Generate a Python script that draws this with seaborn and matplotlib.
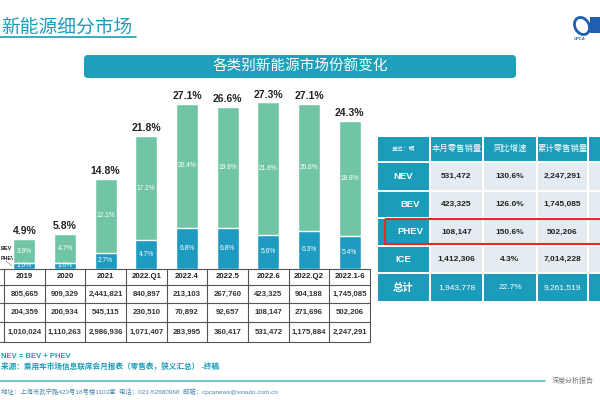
import matplotlib
matplotlib.use('Agg')
import matplotlib.pyplot as plt
import seaborn as sns
import pandas as pd
from matplotlib.patches import Rectangle, FancyBboxPatch, Ellipse

# 柱状图数据（新能源市场份额，%）
periods = ['2019', '2020', '2021', '2022.Q1', '2022.4', '2022.5', '2022.6', '2022.Q2', '2022.1-6']
nev_share = [4.9, 5.8, 14.8, 21.8, 27.1, 26.6, 27.3, 27.1, 24.3]
bev_share = [3.9, 4.7, 12.1, 17.1, 20.4, 19.8, 21.8, 20.8, 18.8]
phev_share = [1.0, 1.0, 2.7, 4.7, 6.8, 6.8, 5.6, 6.3, 5.4]

# 下方表格（零售销量，辆）
bev_sales = [805665, 909329, 2441821, 840897, 213103, 267760, 423325, 904188, 1745085]
phev_sales = [204359, 200934, 545115, 230510, 70892, 92657, 108147, 271696, 502206]
nev_sales = [1010024, 1110263, 2986936, 1071407, 283995, 360417, 531472, 1175884, 2247291]

# 右侧表格
side_header = ['单位：辆', '本月零售销量', '同比增速', '累计零售销量']
side_rows = ['NEV', 'BEV', 'PHEV', 'ICE', '总计']
month_sales = [531472, 423325, 108147, 1412306, 1943778]
yoy_growth = ['130.6%', '126.0%', '150.6%', '4.3%', '22.7%']
ytd_sales = [2247291, 1745085, 502206, 7014228, 9261519]

TEAL = '#1b9cba'
GREEN = '#70c5a5'
BAR_TEAL = '#1d9bc0'
LIGHT = '#e5ecf1'

sns.set_style('white')
plt.rcParams['font.family'] = ['Liberation Sans', 'Noto Sans CJK SC', 'DejaVu Sans']

fig = plt.figure(figsize=(6, 4), dpi=100)

# 背景层：像素坐标
bg = fig.add_axes([0, 0, 1, 1])
bg.set_xlim(0, 600)
bg.set_ylim(400, 0)
bg.axis('off')

# 1. 标题和横幅
bg.text(1, 33, '新能源细分市场', fontsize=13.5, color=TEAL, va='baseline', ha='left')
bg.plot([0, 136], [37, 37], color=TEAL, lw=1.2)
bg.add_patch(FancyBboxPatch((84, 55), 432, 23, boxstyle='round,pad=0,rounding_size=4',
                            facecolor='#1ea0bb', edgecolor='none'))
bg.text(300, 67, '各类别新能源市场份额变化', fontsize=10.5, color='white', ha='center', va='center')

# logo 近似
bg.add_patch(Ellipse((582, 26), 14, 18, angle=-30, facecolor='none', edgecolor='#1f5fb0', lw=2))
bg.add_patch(Rectangle((590, 17), 10, 16, facecolor='#1f5fb0', edgecolor='none'))
bg.text(580, 40, 'CPCA', fontsize=3, color='#1f5fb0', ha='center', style='italic', fontweight='bold')

# 2. 堆叠柱状图
left, right, base, top = 4, 370, 269, 90
px_per_pct = 6.1
ax = fig.add_axes([left / 600, (400 - base) / 400, (right - left) / 600, (base - top) / 400])
df = pd.DataFrame({'period': periods, 'nev': nev_share, 'bev': bev_share, 'phev': phev_share})
sns.barplot(data=df, x='period', y='nev', color=GREEN, width=0.54, saturation=1, ax=ax)
sns.barplot(data=df, x='period', y='phev', color=BAR_TEAL, width=0.54, saturation=1, ax=ax)
ax.set_xlim(-0.5, len(periods) - 0.5)
ax.set_ylim(0, (base - top) / px_per_pct)
ax.patch.set_alpha(0)
ax.axis('off')

for i in range(len(periods)):
    ax.text(i, nev_share[i] + 0.45, f'{nev_share[i]}%', ha='center', va='bottom',
            fontsize=7.5, fontweight='bold', color='#222222')
    ax.text(i, (phev_share[i] + nev_share[i]) / 2, f'{bev_share[i]}%', ha='center', va='center',
            fontsize=4.8, color='white')
    ax.text(i, phev_share[i] / 2, f'{phev_share[i]}%', ha='center', va='center',
            fontsize=4.8, color='white')

# 图例文字（靠左）
bg.text(1, 249, 'BEV', fontsize=4, fontweight='bold', ha='left', va='center', color='#222222')
bg.text(0.5, 258, 'PHEV', fontsize=3.8, fontweight='bold', ha='left', va='center', color='#222222')
bg.plot([6, 12], [261, 266], color='#999999', lw=0.6)

# 3. 下方表格
col_w = (right - left) / len(periods)
row_lines = [269, 285, 303, 322, 342]
for y in row_lines:
    bg.plot([0, right], [y, y], color='#555555', lw=0.8)
for k in range(len(periods) + 1):
    x = left + k * col_w
    bg.plot([x, x], [row_lines[0], row_lines[-1]], color='#555555', lw=0.8)

table_values = [bev_sales, phev_sales, nev_sales]
for i, p in enumerate(periods):
    cx = left + (i + 0.5) * col_w
    bg.text(cx, 277, p, fontsize=5.6, fontweight='bold', ha='center', va='center', color='#222222')
    for r, vals in enumerate(table_values):
        cy = (row_lines[r + 1] + row_lines[r + 2]) / 2
        bg.text(cx, cy, f'{vals[i]:,}', fontsize=5.6, fontweight='bold', ha='center', va='center',
                color='#333333')

# 4. 右侧表格
xs = [377, 430, 483, 537, 588, 606]
ys = [136, 162, 191, 218, 246, 273, 302]
gap = 1.2
for r in range(len(ys) - 1):
    for c in range(len(xs) - 1):
        teal_cell = r == 0 or c == 0 or r == len(ys) - 2
        bg.add_patch(Rectangle((xs[c] + gap / 2, ys[r] + gap / 2),
                               xs[c + 1] - xs[c] - gap, ys[r + 1] - ys[r] - gap,
                               facecolor=TEAL if teal_cell else LIGHT, edgecolor='none'))

col_cx = [(xs[c] + xs[c + 1]) / 2 for c in range(4)]
header_y = (ys[0] + ys[1]) / 2
bg.text(col_cx[0], header_y, side_header[0], fontsize=4.2, color='white', ha='center', va='center')
for c in range(1, 4):
    bg.text(col_cx[c], header_y, side_header[c], fontsize=6, color='white', ha='center', va='center')

for r, name in enumerate(side_rows):
    cy = (ys[r + 1] + ys[r + 2]) / 2
    is_total = r == len(side_rows) - 1
    indent = 7 if name in ('BEV', 'PHEV') else 0
    bg.text(col_cx[0] + indent, cy, name, fontsize=6.8 if not is_total else 7.5,
            fontweight='bold', color='white', ha='center', va='center')
    cells = [f'{month_sales[r]:,}', yoy_growth[r], f'{ytd_sales[r]:,}']
    for c, txt in enumerate(cells):
        bg.text(col_cx[c + 1], cy, txt, fontsize=6, ha='center', va='center',
                fontweight='normal' if is_total else 'bold',
                color='white' if is_total else '#222222')

bg.add_patch(Rectangle((385, 218.5), 222, 25, facecolor='none', edgecolor='#e8262b', lw=1.5))

# 5. 注释和页脚
bg.text(1, 357, 'NEV = BEV + PHEV', fontsize=5.5, fontweight='bold', color=TEAL, va='center')
bg.text(1, 367, '来源：乘用车市场信息联席会月报表（零售表，狭义汇总） -终稿', fontsize=5.5,
        fontweight='bold', color=TEAL, va='center')
bg.plot([0, 545], [381, 381], color='#5fb8c9', lw=1.2)
bg.text(552, 381, '深度分析报告', fontsize=5, color='#777777', va='center', style='italic')
bg.text(1, 392, '地址：上海市武宁路423号18号楼1103室  电话：021-52680968  邮箱：cpcanews@sxauto.com.cn',
        fontsize=4.6, color='#4a88a8', va='center')

fig.savefig('out.png', dpi=100)
